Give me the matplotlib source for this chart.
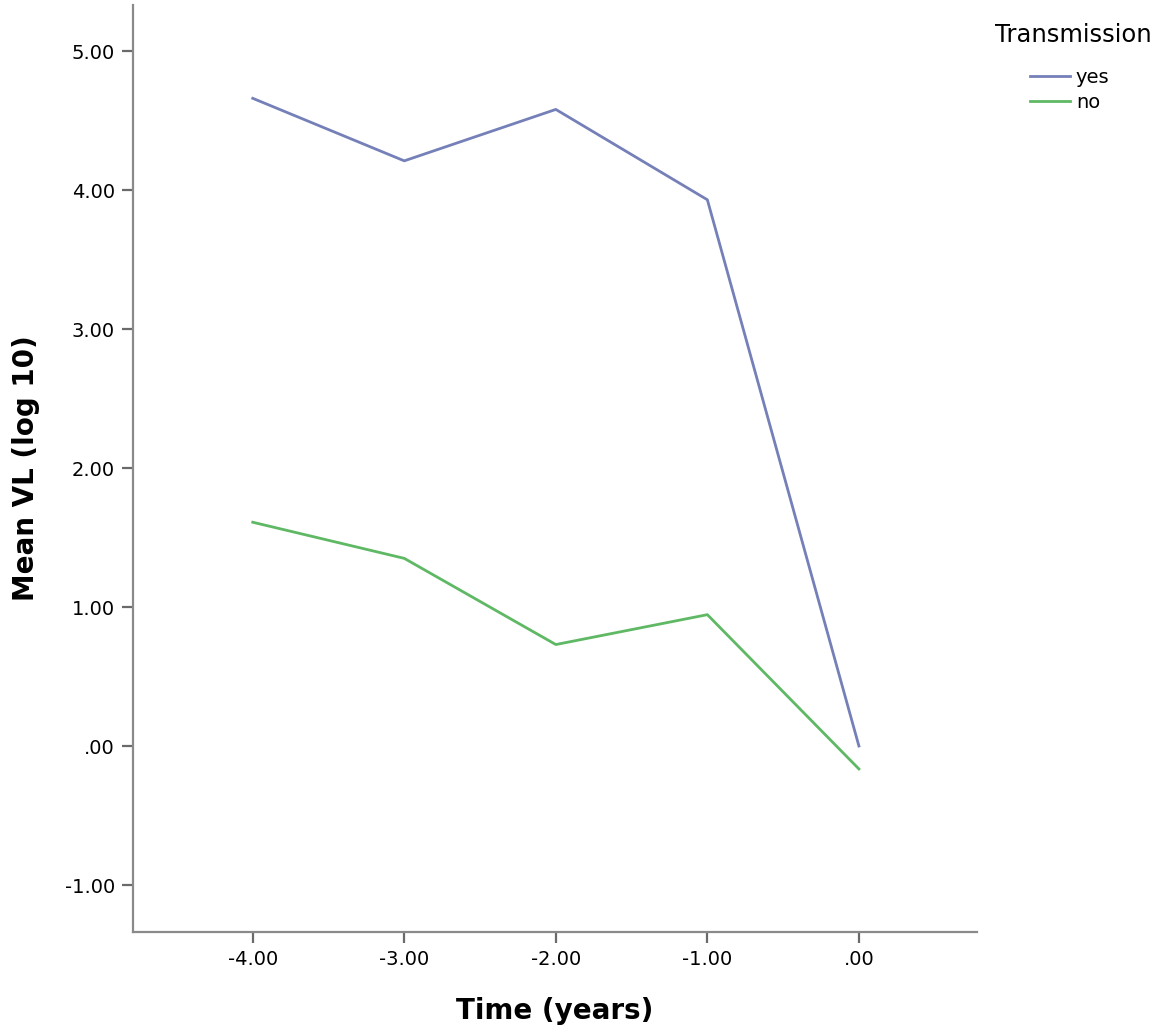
import matplotlib
matplotlib.use("Agg")
import matplotlib.pyplot as plt

time = [-4, -3, -2, -1, 0]
yes_vals = [4.66, 4.21, 4.58, 3.93, 0.0]
no_vals = [1.61, 1.35, 0.73, 0.945, -0.165]
series_names = ["yes", "no"]
legend_title = "Transmission"
xticks = [-4, -3, -2, -1, 0]
xtick_labels = ["-4.00", "-3.00", "-2.00", "-1.00", ".00"]
yticks = [-1, 0, 1, 2, 3, 4, 5]
ytick_labels = ["-1.00", ".00", "1.00", "2.00", "3.00", "4.00", "5.00"]

fig = plt.figure(figsize=(11.73, 10.36), dpi=100)
ax = fig.add_axes([0.1134, 0.1004, 0.833 - 0.1134, 0.995 - 0.1004])

l1, = ax.plot(time, yes_vals, color="#7580b8", lw=2.0, label=series_names[0])
l2, = ax.plot(time, no_vals, color="#5fb864", lw=2.0, label=series_names[1])

ax.set_xlim(-4.79, 0.78)
ax.set_ylim(-1.338, 5.33)
ax.set_xticks(xticks)
ax.set_xticklabels(xtick_labels)
ax.set_yticks(yticks)
ax.set_yticklabels(ytick_labels)
for s in ["top", "right"]:
    ax.spines[s].set_visible(False)
for s in ["left", "bottom"]:
    ax.spines[s].set_color("#8a8a8a")
    ax.spines[s].set_linewidth(1.6)
ax.tick_params(axis="both", length=8, width=1.6, color="#6a6a6a", labelsize=14, pad=5)

ax.set_xlabel("Time (years)", fontsize=20, fontweight="bold", labelpad=20)
ax.set_ylabel("Mean VL (log 10)", fontsize=20, fontweight="bold", labelpad=18)

fig.text(995 / 1173, 1 - 35 / 1036, legend_title, fontsize=17.5, ha="left", va="center")
leg = fig.legend(handles=[l1, l2], loc="upper left",
                 bbox_to_anchor=(1030 / 1173, 1 - 68 / 1036), frameon=False, fontsize=14,
                 handlelength=2.06, handletextpad=0.3, borderpad=0, borderaxespad=0,
                 labelspacing=0.29)

fig.savefig("out.png", dpi=100)
